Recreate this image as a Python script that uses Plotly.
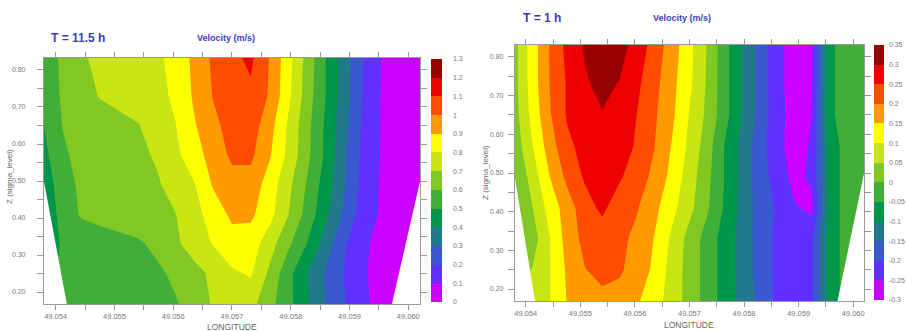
import plotly.graph_objects as go

# ---------------- data ----------------
lon = [round(49.0538 + 0.00032 * k, 5) for k in range(21)]
zlev = [0.165, 0.25, 0.33, 0.41, 0.49, 0.57, 0.65, 0.73, 0.835]

# T = 11.5 h velocity (m/s), rows bottom -> top
vel_11h = [
    [0.50, 0.52, 0.53, 0.54, 0.55, 0.56, 0.575, 0.59, 0.645, 0.71, 0.75, 0.73, 0.63, 0.53, 0.41, 0.30, 0.205, 0.115, 0.07, 0.04, 0.02],
    [0.45, 0.52, 0.53, 0.54, 0.55, 0.56, 0.58, 0.62, 0.669, 0.72, 0.785, 0.81, 0.68, 0.53, 0.403, 0.288, 0.195, 0.108, 0.07, 0.04, 0.02],
    [0.40, 0.52, 0.54, 0.56, 0.57, 0.585, 0.623, 0.683, 0.743, 0.805, 0.86, 0.85, 0.744, 0.62, 0.497, 0.35, 0.21, 0.115, 0.07, 0.04, 0.02],
    [0.40, 0.547, 0.61, 0.627, 0.645, 0.663, 0.681, 0.698, 0.765, 0.845, 0.92, 0.92, 0.834, 0.703, 0.563, 0.42, 0.276, 0.15, 0.085, 0.05, 0.03],
    [0.42, 0.57, 0.614, 0.633, 0.652, 0.671, 0.69, 0.731, 0.794, 0.91, 0.96, 0.96, 0.855, 0.726, 0.59, 0.45, 0.305, 0.157, 0.085, 0.05, 0.03],
    [0.47, 0.59, 0.619, 0.64, 0.661, 0.682, 0.709, 0.776, 0.861, 0.938, 1.02, 1.02, 0.911, 0.776, 0.625, 0.48, 0.31, 0.17, 0.09, 0.06, 0.03],
    [0.50, 0.602, 0.624, 0.647, 0.671, 0.695, 0.743, 0.797, 0.891, 0.974, 1.04, 1.05, 0.94, 0.784, 0.63, 0.48, 0.33, 0.18, 0.09, 0.06, 0.03],
    [0.55, 0.61, 0.658, 0.707, 0.73, 0.75, 0.77, 0.818, 0.915, 1.005, 1.05, 1.08, 0.99, 0.824, 0.65, 0.497, 0.34, 0.19, 0.09, 0.06, 0.03],
    [0.57, 0.61, 0.69, 0.72, 0.74, 0.76, 0.78, 0.834, 0.925, 1.019, 1.078, 1.12, 0.995, 0.838, 0.663, 0.497, 0.344, 0.198, 0.09, 0.06, 0.03],
]

# T = 1 h velocity (m/s), rows bottom -> top
vel_1h = [
    [0.05, 0.06, 0.098, 0.152, 0.175, 0.185, 0.18, 0.155, 0.12, 0.078, 0.03, -0.02, -0.07, -0.115, -0.16, -0.21, -0.225, -0.21, -0.08, -0.03, -0.03],
    [0.03, 0.052, 0.098, 0.158, 0.198, 0.215, 0.207, 0.178, 0.14, 0.08, 0.03, -0.02, -0.07, -0.118, -0.17, -0.21, -0.225, -0.21, -0.08, -0.03, -0.03],
    [-0.03, 0.025, 0.098, 0.17, 0.215, 0.225, 0.215, 0.185, 0.148, 0.09, 0.032, -0.02, -0.07, -0.118, -0.17, -0.21, -0.225, -0.21, -0.08, -0.03, -0.03],
    [-0.02, 0.048, 0.12, 0.174, 0.23, 0.26, 0.225, 0.204, 0.163, 0.115, 0.065, 0.008, -0.055, -0.115, -0.17, -0.205, -0.245, -0.262, -0.08, -0.03, -0.03],
    [-0.002, 0.072, 0.15, 0.213, 0.256, 0.27, 0.256, 0.225, 0.187, 0.135, 0.075, 0.015, -0.051, -0.115, -0.175, -0.22, -0.265, -0.24, -0.08, -0.03, -0.03],
    [0.02, 0.098, 0.175, 0.24, 0.265, 0.275, 0.27, 0.245, 0.201, 0.147, 0.088, 0.025, -0.051, -0.115, -0.175, -0.235, -0.27, -0.245, -0.08, -0.03, -0.03],
    [0.03, 0.115, 0.195, 0.255, 0.28, 0.298, 0.285, 0.249, 0.207, 0.16, 0.097, 0.04, -0.03, -0.101, -0.165, -0.23, -0.27, -0.25, -0.06, -0.03, -0.03],
    [0.035, 0.125, 0.201, 0.255, 0.295, 0.31, 0.298, 0.26, 0.215, 0.165, 0.11, 0.045, -0.03, -0.101, -0.165, -0.235, -0.27, -0.255, -0.06, -0.03, -0.03],
    [0.035, 0.125, 0.203, 0.265, 0.305, 0.33, 0.32, 0.28, 0.23, 0.175, 0.115, 0.048, -0.03, -0.101, -0.165, -0.235, -0.27, -0.255, -0.06, -0.03, -0.03],
]

# sea-bed (no data) boundaries
bed_11h_left_lon = [49.0538, 49.05420, 49.0530, 49.0530]
bed_11h_left_z = [0.500, 0.160, 0.160, 0.500]
bed_11h_right_lon = [49.0602, 49.05971, 49.0610, 49.0610]
bed_11h_right_z = [0.500, 0.160, 0.160, 0.500]
bed_1h_left_lon = [49.0538, 49.05418, 49.0530, 49.0530]
bed_1h_left_z = [0.490, 0.160, 0.160, 0.490]
bed_1h_right_lon = [49.0602, 49.05970, 49.0610, 49.0610]
bed_1h_right_z = [0.500, 0.160, 0.160, 0.500]

levels_11h = [round(0.1 * i, 2) for i in range(14)]          # 0 .. 1.3
levels_1h = [round(-0.3 + 0.05 * i, 2) for i in range(14)]   # -0.3 .. 0.35
labels_11h = ["0", "0.1", "0.2", "0.3", "0.4", "0.5", "0.6", "0.7", "0.8", "0.9", "1", "1.1", "1.2", "1.3"]
labels_1h = ["-0.3", "-0.25", "-0.2", "-0.15", "-0.1", "-0.05", "0", "0.05", "0.1", "0.15", "0.2", "0.25", "0.3", "0.35"]

x_ticks = [round(49.054 + 0.0005 * i, 4) for i in range(13)]
x_labels = ["49.054", "", "49.055", "", "49.056", "", "49.057", "", "49.058", "", "49.059", "", "49.060"]
y_ticks = [round(0.20 + 0.05 * i, 2) for i in range(13)]
y_labels = ["0.20", "", "0.30", "", "0.40", "", "0.50", "", "0.60", "", "0.70", "", "0.80"]

band_colors = ["#cc00ff", "#6030ff", "#3a58d0", "#217a8c", "#00964a", "#41af37",
               "#82c823", "#c8e614", "#ffff00", "#ff9a00", "#ff4d00", "#ee0000", "#990000"]

# ---------------- styling helpers ----------------
W, H = 906, 331
def px(x):
    return x / W
def py(y):
    return 1 - y / H

def contour_scale(colors):
    n = len(colors)
    sc = []
    for k, c in enumerate(colors):
        lo = 0 if k == 0 else (k - 0.5) / (n - 1)
        hi = 1 if k == n - 1 else (k + 0.5) / (n - 1)
        sc += [[lo, c], [hi, c]]
    return sc

def bar_scale(colors):
    n = len(colors)
    sc = []
    for k, c in enumerate(colors):
        sc += [[k / n, c], [(k + 1) / n, c]]
    return sc

FONT = "Liberation Sans, Arial, sans-serif"
TICKC = "#777777"
LINEC = "#9a9a9a"
BLUE = "#3b3bc2"

fig = go.Figure()

def add_panel(vel, levels, labels, xa, ya, beds, cb, cb_ticklen):
    step = levels[1] - levels[0]
    fig.add_trace(go.Contour(
        x=lon, y=zlev, z=vel, xaxis=xa, yaxis=ya,
        autocontour=False,
        contours=dict(start=levels[1], end=levels[-2], size=step, coloring="fill", showlines=False),
        line=dict(width=0, smoothing=0),
        colorscale=contour_scale(band_colors),
        showscale=False, hoverinfo="skip",
    ))
    for bx, bz in beds:
        fig.add_trace(go.Scatter(
            x=bx, y=bz, xaxis=xa, yaxis=ya, mode="lines", fill="toself",
            fillcolor="white", line=dict(width=0, color="white"),
            hoverinfo="skip", showlegend=False,
        ))
    fig.add_trace(go.Scatter(
        x=[lon[0], lon[0]], y=[zlev[0], zlev[0]], xaxis=xa, yaxis=ya, mode="markers",
        marker=dict(size=1, opacity=0, color=[levels[0], levels[-1]], cmin=levels[0], cmax=levels[-1],
                    colorscale=bar_scale(band_colors), showscale=True,
                    colorbar=dict(
                        x=px(cb[0]), xanchor="left", y=py(cb[2]), yanchor="top",
                        len=cb[3] - cb[2], lenmode="pixels",
                        thickness=cb[1] - cb[0], thicknessmode="pixels",
                        xpad=0, ypad=0, outlinewidth=0,
                        tickvals=levels, ticktext=labels,
                        ticks="outside", ticklen=cb_ticklen, tickcolor="rgba(0,0,0,0)",
                        tickfont=dict(size=7, color=TICKC, family=FONT),
                    )),
        hoverinfo="skip", showlegend=False,
    ))

add_panel(vel_11h, levels_11h, labels_11h, "x", "y",
          [(bed_11h_left_lon, bed_11h_left_z), (bed_11h_right_lon, bed_11h_right_z)],
          (432, 443, 59, 302), 10)
add_panel(vel_1h, levels_1h, labels_1h, "x2", "y2",
          [(bed_1h_left_lon, bed_1h_left_z), (bed_1h_right_lon, bed_1h_right_z)],
          (876, 886, 45, 300), 4)

def xaxis(dom, anchor):
    return dict(domain=dom, range=[49.0538, 49.0602], anchor=anchor,
                tickmode="array", tickvals=x_ticks, ticktext=x_labels,
                ticks="outside", ticklen=5, tickcolor=LINEC, tickwidth=1,
                showline=True, linecolor=LINEC, linewidth=1, mirror="allticks",
                showgrid=False, zeroline=False,
                tickfont=dict(size=7.5, color=TICKC, family=FONT))

def yaxis(dom, rng, anchor, standoff):
    return dict(domain=dom, range=rng, anchor=anchor,
                tickmode="array", tickvals=y_ticks, ticktext=y_labels,
                ticks="outside", ticklen=6, tickcolor=LINEC, tickwidth=1,
                showline=True, linecolor=LINEC, linewidth=1, mirror="allticks",
                showgrid=False, zeroline=False, ticklabelstandoff=standoff,
                tickfont=dict(size=7, color=TICKC, family=FONT))

ann = []
def text(x, y, t, size, color, xanchor="center", angle=0, bold=False):
    ann.append(dict(x=px(x), y=py(y), xref="paper", yref="paper", text=("<b>%s</b>" % t) if bold else t,
                    showarrow=False, xanchor=xanchor, yanchor="middle", textangle=angle,
                    font=dict(size=size, color=color, family=FONT)))

text(49, 38, "T = 11.5 h", 12, BLUE, xanchor="left", bold=True)
text(226, 38, "Velocity (m/s)", 9, BLUE, bold=True)
text(522, 18, "T = 1 h", 12, BLUE, xanchor="left", bold=True)
text(683.5, 18, "Velocity (m/s)", 9, BLUE, bold=True)
text(232.5, 327, "LONGITUDE", 8.5, "#666666")
text(691, 325, "LONGITUDE", 8.5, "#666666")
text(9, 176, "Z (sigma_level)", 8, "#666666", angle=-90)
text(486, 172, "Z (sigma_level)", 8, "#666666", angle=-90)

fig.update_layout(
    width=W, height=H, margin=dict(l=0, r=0, t=0, b=0),
    paper_bgcolor="white", plot_bgcolor="white", showlegend=False,
    xaxis=xaxis([px(44), px(421)], "y"),
    yaxis=yaxis([py(304), py(58)], [0.1676, 0.8324], "x", 10),
    xaxis2=xaxis([px(516), px(866)], "y2"),
    yaxis2=yaxis([py(301), py(45)], [0.169, 0.831], "x2", 3),
    annotations=ann,
)

fig.write_html("out.html")
